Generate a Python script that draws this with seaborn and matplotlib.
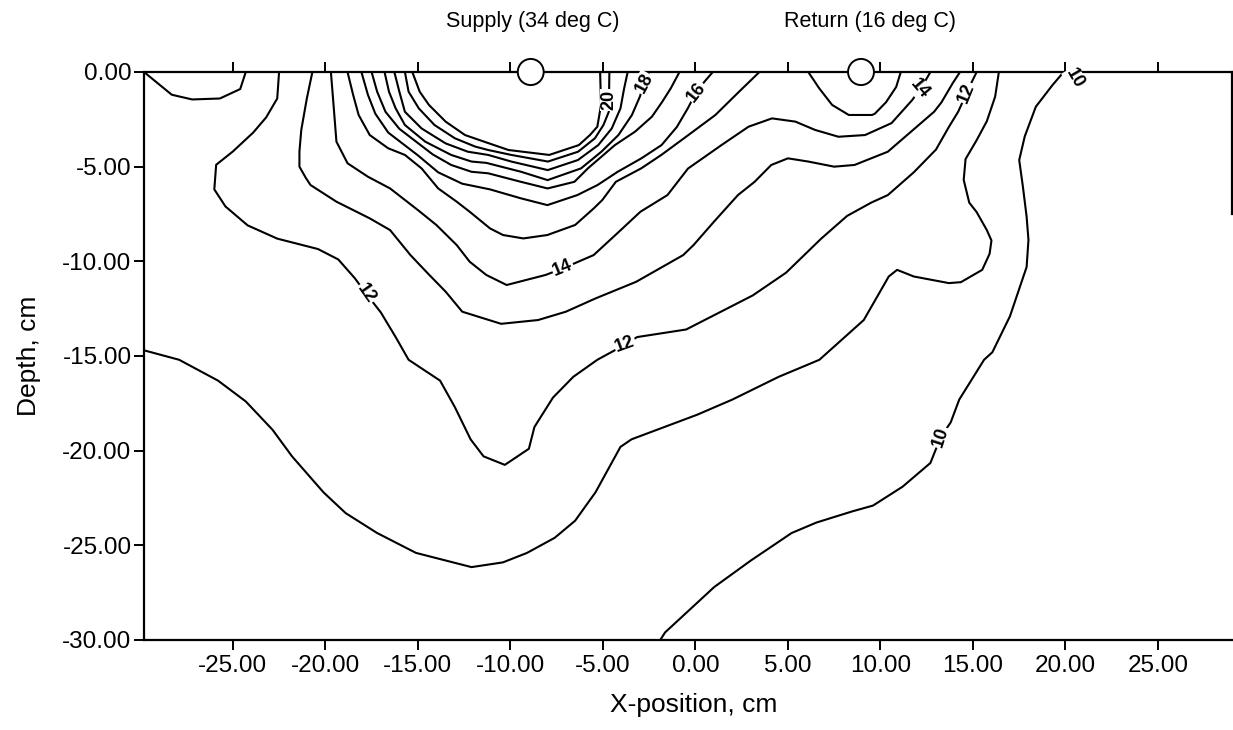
import matplotlib
matplotlib.use("Agg")
import matplotlib.pyplot as plt
from matplotlib.patches import Ellipse
import numpy as np
import pandas as pd
import seaborn as sns

# ---------------- data (cm) ----------------
# isotherm lines, x-position and depth
bowl_x = [-29.8, -28.3, -27.2, -25.7, -24.6, -24.3]
bowl_y = [0, -1.2, -1.45, -1.4, -0.9, 0]

t12_x = [-22.5, -22.6, -23.2, -23.9, -25.0, -25.9, -26.0, -25.4, -24.2, -22.6, -20.4, -19.3, -18.4, -17.8,
         -17.0, -16.2, -15.5, -13.8, -13.0, -12.15, -11.45, -10.3, -9.0, -8.7, -7.7, -6.6, -5.3, -3.8, -3.15,
         -0.5, 1.3, 3.1, 4.9, 6.8, 8.2, 9.5, 10.4, 11.8, 13.0, 13.7, 14.2, 14.9, 15.2]
t12_y = [0, -1.4, -2.4, -3.2, -4.2, -4.9, -6.2, -7.1, -8.1, -8.8, -9.35, -9.9, -10.9, -11.7,
         -12.7, -14.0, -15.2, -16.3, -17.7, -19.4, -20.3, -20.75, -19.9, -18.75, -17.2, -16.1, -15.2, -14.4, -14.0,
         -13.6, -12.7, -11.8, -10.6, -8.8, -7.6, -6.9, -6.5, -5.3, -4.1, -2.9, -2.1, -0.6, 0]

t13_x = [-20.7, -21.0, -21.3, -21.4, -21.4, -21.05, -20.8, -19.4, -17.6, -16.5, -15.4, -14.4, -13.5, -12.6,
         -10.5, -8.5, -7.0, -5.4, -3.2, -0.66, -0.1, 1.0, 2.3, 3.2, 4.1, 5.0, 6.1, 7.5, 8.6, 10.4, 12.9, 13.3,
         13.9, 14.3]
t13_y = [0, -1.4, -3.06, -4.2, -5.0, -5.6, -5.97, -6.85, -7.73, -8.35, -9.67, -10.7, -11.6, -12.66,
         -13.3, -13.1, -12.66, -11.96, -11.08, -9.67, -9.14, -7.91, -6.5, -5.8, -4.91, -4.56, -4.73, -5.0, -4.91,
         -4.21, -2.1, -1.6, -0.6, 0]

t14_x = [-19.7, -19.6, -19.4, -18.8, -17.7, -16.5, -15.0, -14.0, -12.9, -12.2, -11.3, -10.2, -8.1, -7.16,
         -5.5, -4.2, -2.97, -1.51, -0.4, 1.41, 2.87, 4.14, 5.4, 6.47, 7.73, 9.17, 10.6, 11.7, 12.2, 12.7]
t14_y = [0, -1.2, -3.68, -4.82, -5.53, -6.15, -7.29, -8.08, -9.14, -10.02, -10.72, -11.25, -10.72, -10.37,
         -9.67, -8.5, -7.38, -6.5, -5.1, -3.86, -2.89, -2.45, -2.62, -3.06, -3.42, -3.33, -2.7, -1.5, -0.85, 0]

t15_x = [-18.8, -18.5, -18.2, -17.6, -16.6, -15.7, -14.8, -13.9, -12.9, -12.2, -11.1, -10.4, -9.3, -8.0,
         -6.5, -5.49, -5.03, -4.3, -2.93, -1.84, -0.38, 1.08, 2.36, 3.46]
t15_y = [0, -1.2, -2.27, -3.33, -4.03, -4.38, -5.09, -6.15, -6.85, -7.38, -8.26, -8.61, -8.79, -8.61,
         -8.08, -7.2, -6.76, -5.8, -5.09, -4.38, -3.33, -2.27, -1.04, 0]

t16_x = [-18.05, -17.7, -17.3, -16.6, -15.8, -15.0, -13.9, -12.6, -11.1, -9.44, -8.0, -6.38, -5.29, -4.2,
         -2.92, -1.83, -1.0, -0.4, 0.05, 0.5, 0.94]
t16_y = [0, -1.2, -2.2, -3.2, -3.8, -4.4, -5.3, -5.9, -6.2, -6.67, -7.03, -6.5, -5.97, -5.27,
         -4.56, -3.86, -2.9, -1.9, -1.05, -0.5, 0]

t17_x = [-17.5, -17.2, -16.75, -16.0, -15.2, -14.2, -13.2, -12.1, -11.2, -9.43, -7.99, -6.54, -5.81, -4.35,
         -3.26, -2.35, -1.79, -1.33, -0.86]
t17_y = [0, -1.04, -2.1, -3.0, -3.6, -4.35, -4.91, -5.27, -5.35, -5.8, -6.15, -5.8, -5.09, -3.86,
         -3.15, -2.36, -1.57, -0.86, 0]

t18_x = [-16.8, -16.56, -16.2, -15.7, -14.6, -13.2, -12.1, -11.3, -9.42, -7.99, -6.18, -5.08, -4.16, -3.43,
         -3.0, -2.77, -2.5]
t18_y = [0, -1.04, -1.92, -2.8, -3.68, -4.38, -4.73, -4.8, -5.27, -5.71, -5.09, -4.21, -3.33, -2.27,
         -1.3, -0.6, 0]

t19_x = [-16.27, -16.0, -15.7, -14.8, -13.5, -12.3, -11.2, -9.95, -7.98, -6.35, -5.25, -4.52, -4.05, -3.85, -3.66]
t19_y = [0, -1.04, -2.1, -2.98, -3.77, -4.21, -4.38, -4.73, -5.18, -4.65, -3.86, -2.98, -1.92, -0.86, 0]

t20_x = [-15.7, -15.5, -14.95, -14.1, -13.0, -11.9, -11.2, -9.95, -7.97, -6.34, -5.43, -4.97, -4.68, -4.67, -4.65]
t20_y = [0, -1.04, -1.92, -2.8, -3.5, -3.94, -4.12, -4.38, -4.73, -4.21, -3.5, -2.8, -2.1, -1.48, 0]

t21_x = [-15.3, -14.9, -14.4, -13.5, -12.45, -11.3, -10.1, -7.9, -6.3, -5.7, -5.3, -5.1, -5.15]
t21_y = [0, -1.04, -1.74, -2.62, -3.33, -3.72, -4.12, -4.38, -3.86, -3.33, -2.89, -1.74, 0]

ret15_x = [6.1, 6.69, 7.39, 8.29, 9.55, 9.7, 10.3, 10.85, 11.1]
ret15_y = [0, -0.86, -1.74, -2.27, -2.27, -2.2, -1.6, -0.79, 0]

t11_x = [-29.8, -27.9, -25.8, -24.3, -22.85, -21.8, -20.1, -18.9, -17.2, -15.1, -12.1, -10.4, -9.1, -7.6,
         -6.5, -5.4, -4.05, -3.45, 0.1, 2.0, 4.5, 6.7, 9.1, 10.45, 10.9, 11.8, 13.7, 14.35, 15.5, 15.9, 16.0,
         15.75, 15.2, 14.8, 14.5, 14.6, 15.2, 15.75, 16.2, 16.4]
t11_y = [-14.7, -15.2, -16.3, -17.4, -18.9, -20.3, -22.2, -23.3, -24.35, -25.4, -26.15, -25.9, -25.4, -24.6,
         -23.7, -22.2, -19.8, -19.4, -18.1, -17.3, -16.1, -15.2, -13.1, -10.8, -10.45, -10.8, -11.15, -11.1,
         -10.45, -9.6, -8.9, -8.35, -7.4, -6.9, -5.7, -4.6, -3.6, -2.6, -1.3, 0]

t10_x = [19.9, 19.3, 18.4, 17.8, 17.5, 17.7, 17.9, 18.0, 17.9, 17.0, 16.05, 15.6, 14.26, 13.8, 13.25, 12.7,
         11.2, 9.6, 8.5, 6.53, 5.2, 3.0, 1.02, -1.64, -1.9]
t10_y = [0, -0.69, -1.83, -3.4, -4.65, -6.06, -7.64, -8.87, -10.3, -12.9, -14.8, -15.2, -17.3, -18.5, -19.3,
         -20.65, -21.9, -22.9, -23.2, -23.8, -24.35, -25.8, -27.2, -29.6, -30]

# contour labels: text, x, depth, rotation
label_text = ["20", "18", "16", "14", "12", "12", "14", "12", "10", "10"]
label_x = [-4.67, -2.77, 0.05, -7.16, -17.8, -3.8, 12.15, 14.65, 20.5, 13.25]
label_y = [-1.48, -0.6, -1.05, -10.37, -11.7, -14.4, -0.9, -1.1, -0.35, -19.3]
label_rot = [90, 62, 52, 22, -55, 20, -50, 68, -60, 72]

# pipes
pipe_name = ["Supply (34 deg C)", "Return (16 deg C)"]
pipe_x = [-8.9, 8.95]

x_ticks = [-25, -20, -15, -10, -5, 0, 5, 10, 15, 20, 25]
y_ticks = [0, -5, -10, -15, -20, -25, -30]

# ---------------- build long table ----------------
lines = {
    "bowl": (bowl_x, bowl_y), "t12": (t12_x, t12_y), "t13": (t13_x, t13_y), "t14": (t14_x, t14_y),
    "t15": (t15_x, t15_y), "t16": (t16_x, t16_y), "t17": (t17_x, t17_y), "t18": (t18_x, t18_y),
    "t19": (t19_x, t19_y), "t20": (t20_x, t20_y), "t21": (t21_x, t21_y), "ret15": (ret15_x, ret15_y),
    "t11": (t11_x, t11_y), "t10": (t10_x, t10_y),
}
frames = []
for name, (xs, ys) in lines.items():
    frames.append(pd.DataFrame({"x": xs, "depth": ys, "line": name, "order": np.arange(len(xs))}))
df = pd.concat(frames, ignore_index=True)

# ---------------- plot ----------------
sns.set_theme(style="ticks")
plt.rcParams["font.family"] = ["Liberation Sans", "DejaVu Sans"]

W, H = 1233, 730
fig = plt.figure(figsize=(W / 100, H / 100), dpi=100)
ax = fig.add_axes([144 / W, 1 - 640 / H, 1088 / W, 568 / H])

sns.lineplot(data=df, x="x", y="depth", units="line", estimator=None, sort=False,
             color="black", linewidth=1.5, ax=ax, legend=False)

ax.set_xlim(-29.8, 29.0)
ax.set_ylim(-30, 0)
ax.set_xticks(x_ticks)
ax.set_xticklabels([f"{v:.2f}" for v in x_ticks])
ax.set_yticks(y_ticks)
ax.set_yticklabels([f"{v:.2f}" for v in y_ticks])

for s in ["left", "bottom", "top", "right"]:
    ax.spines[s].set_color("black")
    ax.spines[s].set_linewidth(1.6)
ax.spines["right"].set_bounds(-7.5, 0)

ax.tick_params(axis="both", direction="out", length=7, width=1.4, colors="black", labelsize=17.5)
ax.tick_params(axis="x", top=True, labeltop=False, pad=4)
ax.tick_params(axis="y", pad=2)

ax.set_xlabel("X-position, cm", fontsize=19, color="black")
ax.set_ylabel("Depth, cm", fontsize=19, color="black")
ax.xaxis.set_label_coords(0.5055, -0.093)
ax.yaxis.set_label_coords(-0.095, 0.5)

for t, lx, ly, r in zip(label_text, label_x, label_y, label_rot):
    ax.text(lx, ly, t, rotation=r, rotation_mode="anchor", ha="center", va="center",
            fontsize=13, fontweight="bold", color="black", zorder=6, clip_on=False,
            bbox=dict(facecolor="white", edgecolor="none", pad=0.6))

for px in pipe_x:
    ax.add_patch(Ellipse((px, 0), width=1.4, height=1.38, facecolor="white", edgecolor="black",
                         linewidth=1.4, zorder=7, clip_on=False))

fig.text(533 / W, 1 - 22 / H, pipe_name[0], ha="center", va="center", fontsize=15.5, color="black")
fig.text(870 / W, 1 - 22 / H, pipe_name[1], ha="center", va="center", fontsize=15.5, color="black")

fig.savefig("out.png", dpi=100, facecolor="white")
